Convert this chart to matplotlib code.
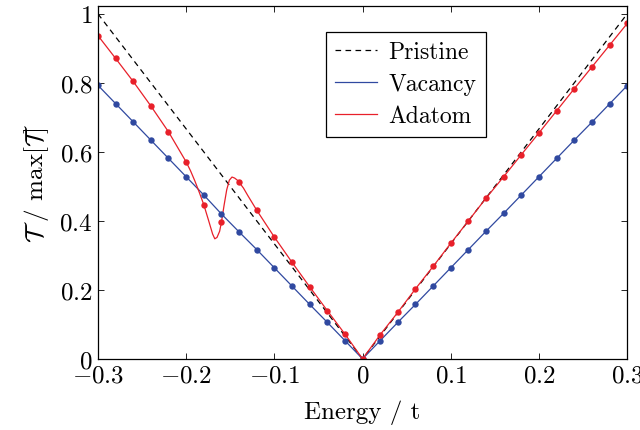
import numpy as np
import matplotlib
matplotlib.use("Agg")
import matplotlib.pyplot as plt

plt.rcParams['font.family'] = 'serif'
plt.rcParams['font.serif'] = ['cmr10']
plt.rcParams['mathtext.fontset'] = 'cm'
plt.rcParams['axes.formatter.use_mathtext'] = True

# energy grid of the sampled points
energy = [-0.30, -0.28, -0.26, -0.24, -0.22, -0.20, -0.18, -0.16, -0.14, -0.12,
          -0.10, -0.08, -0.06, -0.04, -0.02, 0.00, 0.02, 0.04, 0.06, 0.08,
          0.10, 0.12, 0.14, 0.16, 0.18, 0.20, 0.22, 0.24, 0.26, 0.28, 0.30]

pristine_E = [-0.3, 0.0, 0.3]
pristine_T = [1.0, 0.0, 1.0]

vacancy_T = [0.793, 0.740, 0.687, 0.634, 0.581, 0.528, 0.475, 0.420, 0.368, 0.317,
             0.264, 0.211, 0.158, 0.106, 0.053, 0.000, 0.053, 0.106, 0.158, 0.211,
             0.264, 0.317, 0.370, 0.422, 0.475, 0.528, 0.581, 0.634, 0.686, 0.739, 0.792]

adatom_T = [0.937, 0.871, 0.804, 0.733, 0.658, 0.571, 0.447, 0.396, 0.512, 0.431,
            0.353, 0.280, 0.209, 0.140, 0.072, 0.000, 0.070, 0.135, 0.203, 0.268,
            0.335, 0.400, 0.466, 0.528, 0.592, 0.655, 0.719, 0.783, 0.846, 0.909, 0.972]

# finer sampling of the adatom curve around the resonance
adatom_fine_E = [-0.200, -0.195, -0.190, -0.185, -0.180, -0.175, -0.170, -0.1675,
                 -0.165, -0.162, -0.160, -0.157, -0.154, -0.151, -0.148, -0.145,
                 -0.142, -0.140, -0.135, -0.130, -0.125, -0.120]
adatom_fine_T = [0.571, 0.545, 0.515, 0.482, 0.447, 0.405, 0.362, 0.348,
                 0.352, 0.370, 0.396, 0.445, 0.490, 0.518, 0.527, 0.524,
                 0.518, 0.512, 0.495, 0.473, 0.452, 0.431]

blue = '#3049a0'
red = '#e8202a'


def main():
    fig = plt.figure(figsize=(6.4, 4.31), dpi=100)
    ax = fig.add_axes([0.153, 0.165, 0.827, 0.819])

    # adatom line: coarse points outside the resonance, fine points inside it
    e = np.array(energy)
    t = np.array(adatom_T)
    outside = (e < -0.20) | (e > -0.12)
    line_E = np.concatenate([e[outside], adatom_fine_E])
    line_T = np.concatenate([t[outside], adatom_fine_T])
    order = np.argsort(line_E)

    ax.plot(pristine_E, pristine_T, color='black', lw=0.9, dashes=(4.5, 3.5), label='Pristine')
    ax.plot(energy, vacancy_T, color=blue, lw=0.9, label='Vacancy')
    ax.plot(line_E[order], line_T[order], color=red, lw=0.9, label='Adatom')
    ax.plot(energy, vacancy_T, 'o', color=blue, ms=4.6, mew=0)
    ax.plot(energy, adatom_T, 'o', color=red, ms=4.6, mew=0)

    ax.set_xlim(-0.3, 0.3)
    ax.set_ylim(0, 1.023)
    xt = [-0.3, -0.2, -0.1, 0, 0.1, 0.2, 0.3]
    ax.set_xticks(xt)
    ax.set_xticklabels([r'$-0.3$', r'$-0.2$', r'$-0.1$', r'$0$', r'$0.1$', r'$0.2$', r'$0.3$'])
    yt = [0, 0.2, 0.4, 0.6, 0.8, 1]
    ax.set_yticks(yt)
    ax.set_yticklabels([r'$0$', r'$0.2$', r'$0.4$', r'$0.6$', r'$0.8$', r'$1$'])
    ax.tick_params(direction='in', length=4, width=0.6, top=True, right=True,
                   labelsize=18, pad=4)
    for s in ax.spines.values():
        s.set_linewidth(0.9)

    ax.set_xlabel(r'Energy / t', fontsize=18, labelpad=9)
    ax.set_ylabel(r'$\mathcal{T}$ / $\max[\mathcal{T}]$', fontsize=18, labelpad=6)

    leg = ax.legend(loc='upper left', bbox_to_anchor=(0.43, 0.927), fontsize=17,
                    fancybox=False, edgecolor='black', framealpha=1,
                    handlelength=1.8, handletextpad=0.45, borderpad=0.4,
                    labelspacing=0.42, borderaxespad=0)
    leg.get_frame().set_linewidth(0.9)

    fig.savefig('out.png', dpi=100)


if __name__ == "__main__":
    main()
